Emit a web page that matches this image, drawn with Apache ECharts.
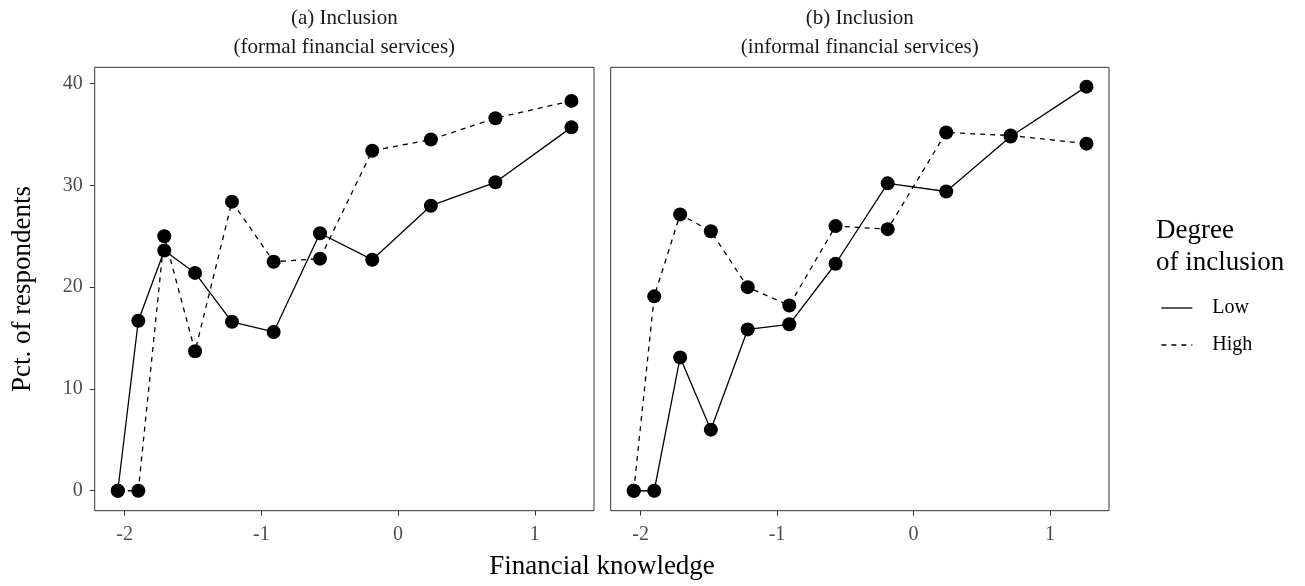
<!DOCTYPE html>
<html>
<head>
<meta charset="utf-8">
<script src="https://cdn.jsdelivr.net/npm/echarts@6/dist/echarts.min.js"></script>
<style>
  html, body { margin: 0; padding: 0; background: #fff; }
  #chart { width: 1305px; height: 586px; }
</style>
</head>
<body>
<div id="chart"></div>
<script>
// Financial knowledge score of each respondent group (x positions)
const knowledge = [-2.05, -1.90, -1.71, -1.485, -1.215, -0.91, -0.571, -0.189, 0.24, 0.712, 1.268];

// Pct. of respondents, panel (a): formal financial services
const formalLow  = [0, 16.7, 23.6, 21.4, 16.6, 15.6, 25.3, 22.7, 28.0, 30.3, 35.7];
const formalHigh = [0, 0, 25.0, 13.7, 28.4, 22.5, 22.8, 33.4, 34.5, 36.6, 38.3];

// Pct. of respondents, panel (b): informal financial services
const informalLow  = [0, 0, 13.1, 6.0, 15.85, 16.35, 22.3, 30.2, 29.4, 34.8, 39.7];
const informalHigh = [0, 19.1, 27.15, 25.5, 20.0, 18.2, 26.0, 25.7, 35.2, 34.9, 34.1];

const xTicks = [-2, -1, 0, 1];
const yTicks = [0, 10, 20, 30, 40];

const panelTitles = ['(a) Inclusion\n(formal financial services)', '(b) Inclusion\n(informal financial services)'];
const seriesNames = ['Low', 'High'];
const legendTitle = 'Degree\nof inclusion';
const xTitle = 'Financial knowledge';
const yTitle = 'Pct. of respondents';

const FONT = '"Liberation Serif", "DejaVu Serif", serif';
const INK = '#000';
const TICK_TEXT = '#4d4d4d';
const FRAME = '#333';

const pair = (xs, ys) => xs.map((x, i) => [x, ys[i]]);

const gridTop = 67.3, gridHeight = 443.4;
const grids = [
  { left: 94.7, top: gridTop, width: 499.3, height: gridHeight },
  { left: 610.7, top: gridTop, width: 498.3, height: gridHeight }
].map(g => Object.assign(g, { show: true, borderColor: FRAME, borderWidth: 1, backgroundColor: '#fff', outerBoundsMode: 'none', containLabel: false }));

function xAxisFor(idx) {
  return {
    type: 'value', gridIndex: idx, position: 'bottom', min: -2.219, max: 1.433,
    splitLine: { show: false }, axisLine: { show: false, onZero: false },
    axisTick: { show: true, inside: false, customValues: xTicks, length: 5, lineStyle: { color: FRAME, width: 1 } },
    axisLabel: { show: true, customValues: xTicks, margin: 14, color: TICK_TEXT, fontFamily: FONT, fontSize: 20 }
  };
}
function yAxisFor(idx, labels) {
  const ax = {
    type: 'value', gridIndex: idx, position: 'left', min: -1.96, max: 41.6,
    splitLine: { show: false }, axisLine: { show: false, onZero: false },
    axisTick: { show: labels, inside: false, customValues: yTicks, length: 5, lineStyle: { color: FRAME, width: 1 } },
    axisLabel: { show: labels, customValues: yTicks, margin: 12, color: TICK_TEXT, fontFamily: FONT, fontSize: 20 }
  };
  if (labels) {
    Object.assign(ax, {
      name: yTitle, nameLocation: 'middle', nameRotate: 90, nameGap: 58,
      nameTextStyle: { color: INK, fontFamily: FONT, fontSize: 27 }
    });
  }
  return ax;
}

function lineSeries(name, idx, ys, dashed) {
  return {
    name, type: 'line', xAxisIndex: idx, yAxisIndex: idx,
    data: pair(knowledge, ys),
    symbol: 'circle', symbolSize: 14, showSymbol: true,
    itemStyle: { color: INK },
    lineStyle: { color: INK, width: 1.3, type: dashed ? [5, 5] : 'solid' },
    emphasis: { disabled: true },
    animation: false
  };
}

const chart = echarts.init(document.getElementById('chart'), null, { renderer: 'canvas' });
chart.setOption({
  backgroundColor: '#fff',
  animation: false,
  title: [
    { text: panelTitles[0], left: 344.3, top: 4, textAlign: 'center', padding: 0,
      textStyle: { fontFamily: FONT, fontSize: 21, fontWeight: 'normal', color: '#1a1a1a', lineHeight: 29 } },
    { text: panelTitles[1], left: 859.8, top: 4, textAlign: 'center', padding: 0,
      textStyle: { fontFamily: FONT, fontSize: 21, fontWeight: 'normal', color: '#1a1a1a', lineHeight: 29 } },
    { text: xTitle, left: 602, top: 551, textAlign: 'center', padding: 0,
      textStyle: { fontFamily: FONT, fontSize: 27, fontWeight: 'normal', color: INK, lineHeight: 32 } },
    { text: legendTitle, left: 1156, top: 215, padding: 0,
      textStyle: { fontFamily: FONT, fontSize: 27, fontWeight: 'normal', color: INK, lineHeight: 32 } }
  ],
  legend: {
    data: seriesNames, orient: 'vertical', left: 1160.7, top: 298, padding: 0,
    itemWidth: 31, itemHeight: 14, itemGap: 17,
    itemStyle: { opacity: 0, color: 'transparent', borderWidth: 0 },
    lineStyle: { color: INK, width: 1.3 },
    textStyle: { fontFamily: FONT, fontSize: 20, color: INK, padding: [0, 0, 0, 15] },
    selectedMode: false
  },
  grid: grids,
  xAxis: [xAxisFor(0), xAxisFor(1)],
  yAxis: [yAxisFor(0, true), yAxisFor(1, false)],
  series: [
    lineSeries('Low', 0, formalLow, false),
    lineSeries('High', 0, formalHigh, true),
    lineSeries('Low', 1, informalLow, false),
    lineSeries('High', 1, informalHigh, true)
  ]
});
</script>
</body>
</html>
